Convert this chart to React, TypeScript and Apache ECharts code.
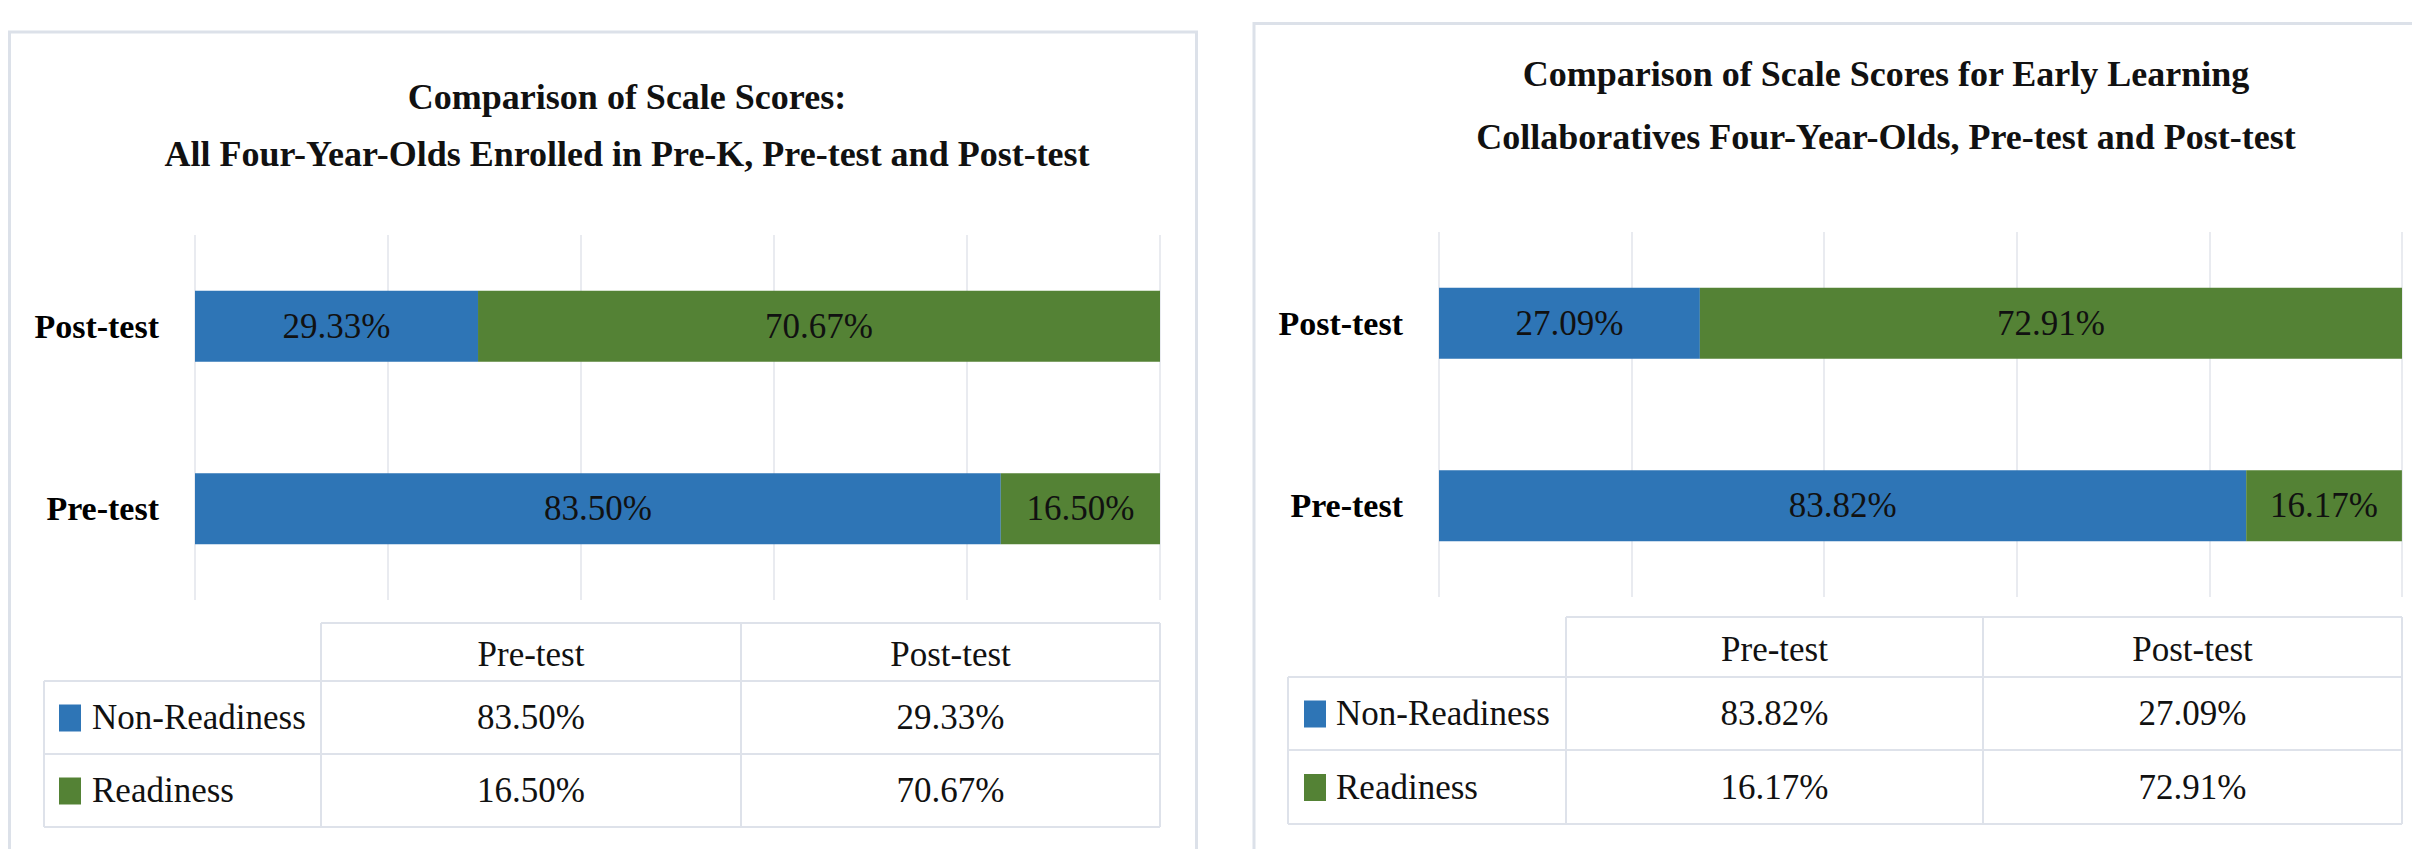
import React, { useEffect, useRef } from "react";
import * as echarts from "echarts";

const categories = ["Pre-test", "Post-test"];
const seriesNames = ["Non-Readiness", "Readiness"];
const leftTitle = ["Comparison of Scale Scores:", "All Four-Year-Olds Enrolled in Pre-K, Pre-test and Post-test"];
const rightTitle = ["Comparison of Scale Scores for Early Learning", "Collaboratives Four-Year-Olds, Pre-test and Post-test"];
const leftNonReadiness = [83.5, 29.33];
const leftReadiness = [16.5, 70.67];
const rightNonReadiness = [83.82, 27.09];
const rightReadiness = [16.17, 72.91];

const FONT = "Liberation Serif, serif";
const BLUE = "#2E75B6";
const GREEN = "#548235";
const LINE = "#DEE2EA";
const fmt = (v: number) => v.toFixed(2) + "%";

function line(x1: number, y1: number, x2: number, y2: number) {
  return {
    type: "line",
    shape: { x1, y1, x2, y2 },
    style: { stroke: LINE, lineWidth: 2 },
    silent: true,
  };
}

function text(str: string, x: number, y: number, size: number, align: string, weight = "normal") {
  return {
    type: "text",
    x,
    y,
    style: {
      text: str,
      fontSize: size,
      fontFamily: FONT,
      fontWeight: weight,
      fill: "#111",
      align,
      verticalAlign: "middle",
    },
    silent: true,
  };
}

function table(
  L: number, C1: number, C2: number, R: number,
  T: number, H1: number, H2: number, B: number,
  sqX: number, txtX: number,
  nonR: number[], ready: number[]
) {
  const els: any[] = [];
  els.push(line(C1, T, R, T), line(L, H1, R, H1), line(L, H2, R, H2), line(L, B, R, B));
  els.push(line(L, H1, L, B), line(C1, T, C1, B), line(C2, T, C2, B), line(R, T, R, B));
  const cx = [(C1 + C2) / 2, (C2 + R) / 2];
  categories.forEach((c, i) => els.push(text(c, cx[i], (T + H1) / 2 + 2, 35, "center")));
  const rows = [nonR, ready];
  const colors = [BLUE, GREEN];
  const ys = [(H1 + H2) / 2, (H2 + B) / 2];
  rows.forEach((vals, r) => {
    els.push({
      type: "rect",
      shape: { x: sqX, y: ys[r] - 13, width: 22, height: 27 },
      style: { fill: colors[r] },
      silent: true,
    });
    els.push(text(seriesNames[r], txtX, ys[r], 35, "left"));
    vals.forEach((v, i) => els.push(text(fmt(v), cx[i], ys[r], 35, "center")));
  });
  return els;
}

function barSeries(name: string, data: number[], color: string, idx: number) {
  return {
    name,
    type: "bar",
    stack: "s" + idx,
    xAxisIndex: idx,
    yAxisIndex: idx,
    barWidth: 71,
    data,
    itemStyle: { color },
    label: {
      show: true,
      position: "inside",
      formatter: (p: any) => fmt(p.value),
      fontSize: 35,
      fontFamily: FONT,
      color: "#111",
    },
  };
}

export default function App() {
  const ref = useRef<HTMLDivElement>(null);
  useEffect(() => {
    if (!ref.current) return;
    const chart = echarts.init(ref.current, undefined, { renderer: "svg" });
    const xAxisBase = {
      type: "value",
      min: 0,
      max: 100,
      interval: 20,
      axisLabel: { show: false },
      axisLine: { show: false },
      axisTick: { show: false },
      splitLine: { show: true, lineStyle: { color: "#E2E5EB", width: 1.5 } },
    };
    const yAxisBase = {
      type: "category",
      data: categories,
      axisLine: { show: false },
      axisTick: { show: false },
      splitLine: { show: false },
      axisLabel: { fontSize: 34, fontWeight: "bold", fontFamily: FONT, color: "#000", margin: 36 },
    };
    const graphic: any[] = [
      {
        type: "rect",
        shape: { x: 9.5, y: 32, width: 1187, height: 900 },
        style: { fill: "none", stroke: "#DCE1E9", lineWidth: 3 },
        silent: true,
      },
      {
        type: "rect",
        shape: { x: 1254, y: 23.5, width: 1300, height: 900 },
        style: { fill: "none", stroke: "#DCE1E9", lineWidth: 3 },
        silent: true,
      },
      text(leftTitle[0], 627, 97, 36, "center", "bold"),
      text(leftTitle[1], 627, 154, 36, "center", "bold"),
      text(rightTitle[0], 1886, 74, 36, "center", "bold"),
      text(rightTitle[1], 1886, 137, 36, "center", "bold"),
      ...table(44, 321, 741, 1160, 623, 681, 754, 827, 59, 92, leftNonReadiness, leftReadiness),
      ...table(1288, 1566, 1983, 2402, 617, 677, 750, 824, 1304, 1336, rightNonReadiness, rightReadiness),
    ];
    chart.setOption({
      animation: false,
      backgroundColor: "#fff",
      grid: [
        { left: 195, top: 235, width: 965, height: 365 },
        { left: 1439, top: 232, width: 963, height: 365 },
      ],
      xAxis: [
        { ...xAxisBase, gridIndex: 0 },
        { ...xAxisBase, gridIndex: 1 },
      ],
      yAxis: [
        { ...yAxisBase, gridIndex: 0 },
        { ...yAxisBase, gridIndex: 1 },
      ],
      series: [
        barSeries(seriesNames[0], leftNonReadiness, BLUE, 0),
        barSeries(seriesNames[1], leftReadiness, GREEN, 0),
        barSeries(seriesNames[0], rightNonReadiness, BLUE, 1),
        barSeries(seriesNames[1], rightReadiness, GREEN, 1),
      ],
      graphic,
    });
    return () => chart.dispose();
  }, []);
  return (
    <div
      ref={ref}
      style={{ position: "absolute", left: 0, top: 0, width: 2412, height: 849, background: "#fff" }}
    />
  );
}
